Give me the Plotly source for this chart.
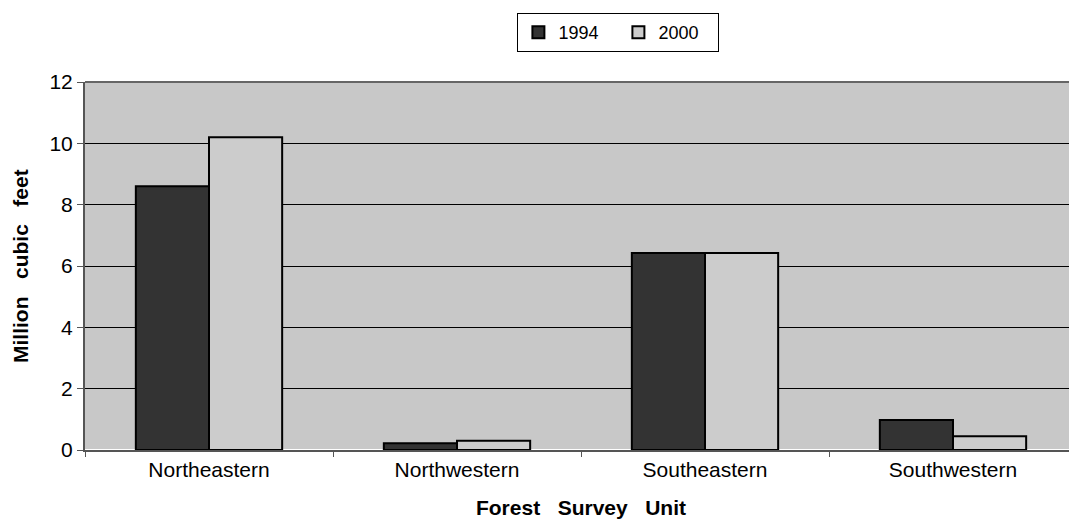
import plotly.graph_objects as go

categories = ["Northeastern", "Northwestern", "Southeastern", "Southwestern"]
values_1994 = [8.6, 0.22, 6.42, 0.98]
values_2000 = [10.2, 0.3, 6.42, 0.45]
series_names = ["1994", "2000"]
y_ticks = [0, 2, 4, 6, 8, 10, 12]

fig = go.Figure()
fig.add_trace(go.Bar(x=categories, y=values_1994, name=series_names[0],
                     marker=dict(color="#333333", line=dict(color="black", width=2))))
fig.add_trace(go.Bar(x=categories, y=values_2000, name=series_names[1],
                     marker=dict(color="#cccccc", line=dict(color="black", width=2))))

font = "Liberation Sans, Arial, sans-serif"
sp = "\u00a0\u00a0\u00a0"
fig.update_layout(
    width=1069, height=513,
    margin=dict(l=77, r=0, t=74, b=71),
    paper_bgcolor="white",
    plot_bgcolor="#c8c8c8",
    barmode="group",
    bargap=0.41,
    bargroupgap=0,
    font=dict(family=font, size=19, color="black"),
    showlegend=True,
    legend=dict(orientation="h", x=0.571, xref="container", xanchor="center",
                y=0.99, yref="container", yanchor="top",
                bordercolor="black", borderwidth=1, bgcolor="white",
                font=dict(size=18), entrywidth=55, traceorder="normal",
                tracegroupgap=0),
    xaxis=dict(showline=True, linecolor="#555555", linewidth=2, mirror=False,
               ticks="outside", tickson="boundaries", ticklen=5, tickcolor="#555555",
               tickfont=dict(size=21),
               title=dict(text="<b>Forest" + sp + "Survey" + sp + "Unit</b>", standoff=20,
                          font=dict(size=21))),
    yaxis=dict(range=[0, 12], tickvals=y_ticks, showline=True, linecolor="#555555",
               linewidth=2, ticks="outside", ticklen=6, tickcolor="#555555",
               tickfont=dict(size=21),
               showgrid=True, gridcolor="black", gridwidth=1),
    annotations=[dict(text="<b>Million" + sp + "cubic" + sp + "feet</b>", textangle=-90,
                      xref="paper", yref="paper", x=-0.0655, y=0.5,
                      xanchor="center", yanchor="middle", showarrow=False,
                      font=dict(size=21))],
    shapes=[dict(type="line", xref="paper", yref="paper", x0=0, x1=1, y0=1, y1=1,
                 line=dict(color="#666666", width=2))],
)
fig.write_html("out.html")
